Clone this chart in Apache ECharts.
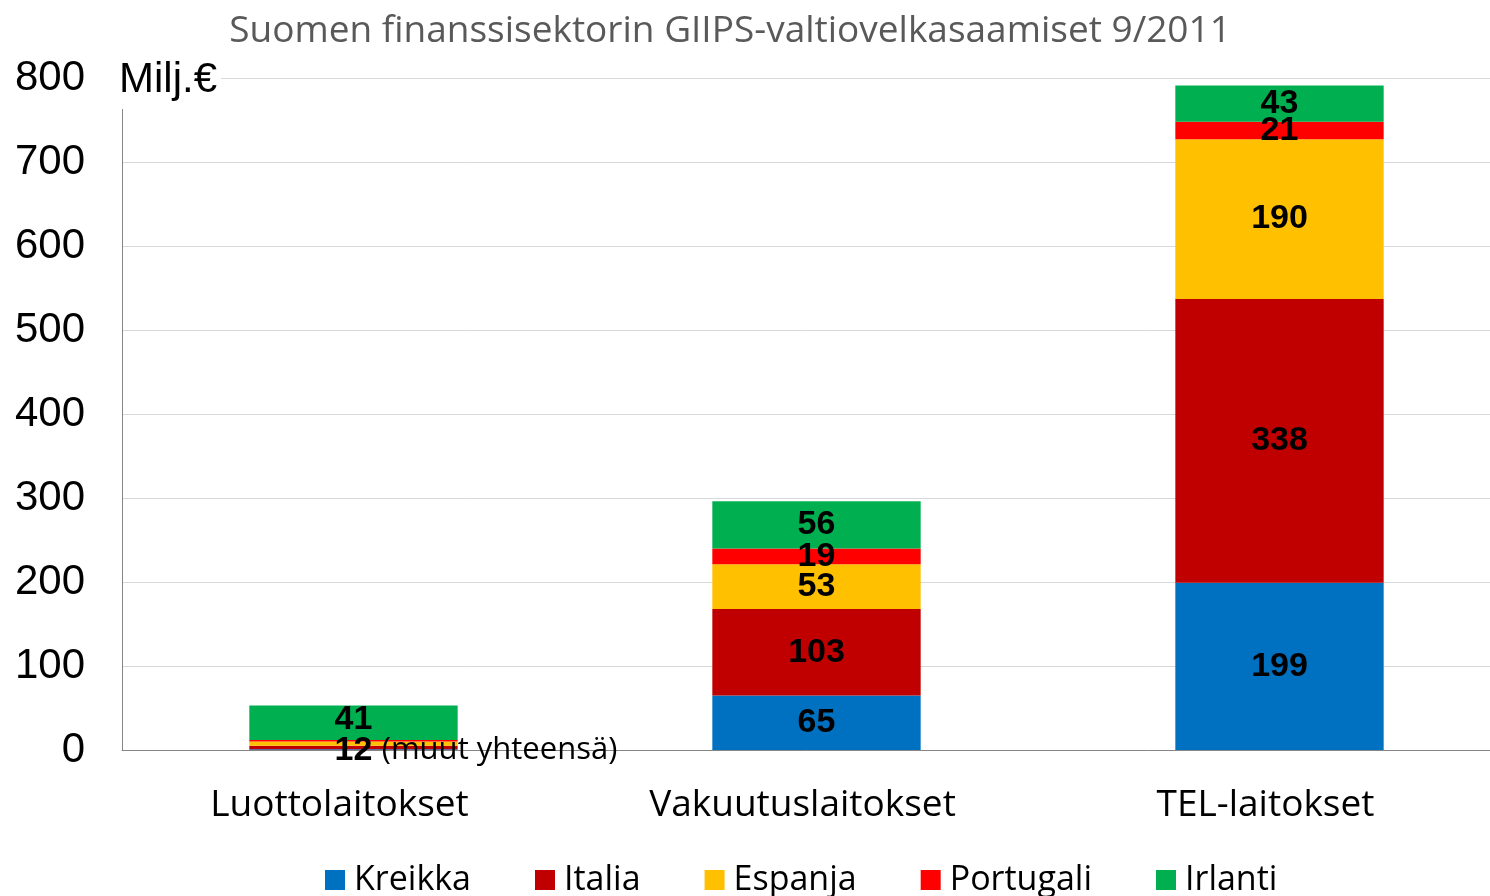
<!DOCTYPE html>
<html>
<head>
<meta charset="utf-8">
<script src="https://cdn.jsdelivr.net/npm/echarts@6/dist/echarts.min.js"></script>
<style>
  html, body { margin: 0; padding: 0; background: #fff; }
  #chart { width: 1490px; height: 896px; }
</style>
</head>
<body>
<div id="chart"></div>
<script>
// categories and values (Milj.€)
var categories = ['Luottolaitokset', 'Vakuutuslaitokset', 'TEL-laitokset'];
var seriesNames = ['Kreikka', 'Italia', 'Espanja', 'Portugali', 'Irlanti'];
var kreikka = [1, 65, 199];
var italia = [4, 103, 338];
var espanja = [5, 53, 190];
var portugali = [2, 19, 21];
var irlanti = [41, 56, 43];
var muutYhteensa = 12;
var yTicks = [0, 100, 200, 300, 400, 500, 600, 700, 800];

var colors = ['#0070C0', '#C00000', '#FFC000', '#FF0000', '#00B050'];
var values = [kreikka, italia, espanja, portugali, irlanti];

var chart = echarts.init(document.getElementById('chart'));

function buildSeries() {
    var list = [];
    values.forEach(function (arr, si) {
        var data = arr.map(function (v, ci) {
            var item = { value: v };
            if (ci === 0 && si !== 4) {
                if (si === 0) {
                    // joint label for the small ones
                    item.label = {
                        show: true,
                        align: 'left',
                        offset: [-19, 1],
                        formatter: '{n|' + muutYhteensa + '} {t|(muut yhteensä)}'
                    };
                } else {
                    item.label = { show: false };
                }
            }
            if (ci === 0 && si === 4) {
                item.label = { offset: [0, -3] };
            }
            return item;
        });
        list.push({
            name: seriesNames[si],
            type: 'bar',
            stack: 'total',
            barWidth: '45%',
            itemStyle: { color: colors[si] },
            label: {
                show: true,
                position: 'inside',
                color: '#000',
                fontFamily: 'Liberation Sans',
                fontWeight: 'bold',
                fontSize: 34,
                rich: {
                    n: { fontFamily: 'Liberation Sans', fontWeight: 'bold', fontSize: 34, color: '#000' },
                    t: { fontFamily: 'Open Sans', fontWeight: 'normal', fontSize: 31, color: '#000' }
                }
            },
            data: data
        });
    });
    return list;
}

chart.setOption({
    animation: false,
    title: {
        text: 'Suomen finanssisektorin GIIPS-valtiovelkasaamiset 9/2011',
        left: 725,
        textAlign: 'center',
        top: 8,
        textStyle: { fontFamily: 'Open Sans', fontWeight: 'normal', fontSize: 37, color: '#595959' }
    },
    legend: {
        data: seriesNames,
        bottom: -6,
        left: 320,
        itemWidth: 20,
        itemHeight: 20,
        itemGap: 64,
        icon: 'rect',
        textStyle: { fontFamily: 'Open Sans', fontSize: 34, color: '#000', padding: [0, 0, 0, 4] }
    },
    grid: { left: 122, width: 1389, top: 78, bottom: 146, outerBoundsMode: 'none' },
    xAxis: {
        type: 'category',
        data: categories,
        axisLine: { show: true, lineStyle: { color: '#868686', width: 1 } },
        axisTick: { show: false },
        axisLabel: {
            fontFamily: 'Open Sans', fontSize: 37, color: '#000', margin: 37,
            padding: [0, 28, 0, 0]
        }
    },
    yAxis: {
        type: 'value',
        min: 0,
        max: 800,
        interval: 100,
        axisLine: { show: true, lineStyle: { color: '#868686', width: 1 } },
        axisTick: { show: false },
        axisLabel: {
            fontFamily: 'Liberation Sans', fontSize: 42, color: '#000', margin: 37,
            formatter: function (v) { return yTicks.indexOf(v) >= 0 ? String(v) : ''; }
        },
        splitLine: { lineStyle: { color: '#D9D9D9', width: 1 } }
    },
    graphic: [{
        type: 'text',
        left: 117,
        top: 57,
        z: 100,
        style: {
            text: 'Milj.€',
            fontFamily: 'Liberation Sans',
            fontSize: 42,
            fill: '#000',
            backgroundColor: '#fff',
            padding: [2, 4, 8, 2]
        }
    }],
    series: buildSeries()
});
</script>
</body>
</html>
